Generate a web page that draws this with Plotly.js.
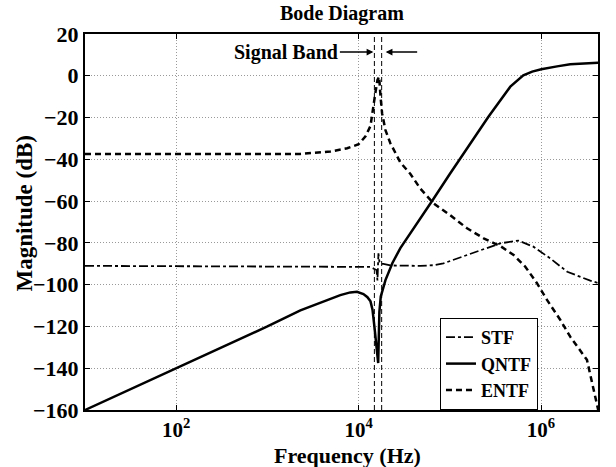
<!DOCTYPE html>
<html>
<head>
<meta charset="utf-8">
<script src="https://cdn.plot.ly/plotly-3.0.1.min.js"></script>
<style>html,body{margin:0;padding:0;background:#fff;}#chart{width:616px;height:467px;}</style>
</head>
<body>
<div id="chart"></div>
<script>
// Frequency (Hz) and magnitude (dB)
const qntfFreq = [10, 100, 1000, 2300, 4900, 6300, 8100, 9600, 11300, 12500, 13500, 14200, 14900, 15700, 16400, 16900, 17500, 19700, 23500, 28700, 37000, 47500, 66100, 100000, 154500, 181000, 264000, 461000, 640000, 800000, 1007000, 1500000, 2090000, 4240000];
const qntfDb   = [-160, -140, -120, -112.3, -107, -105, -103.7, -103.4, -104.5, -106, -108, -112, -120, -131, -137.5, -113, -105.7, -97.8, -89.6, -82.5, -75.5, -68.5, -59, -47, -35, -30.4, -19.7, -5.2, 0.2, 2, 3.1, 4.5, 5.5, 6.2];

const entfFreq = [10, 1000, 2300, 4900, 7500, 10000, 11900, 13500, 14500, 15300, 16100, 16800, 17400, 18100, 19700, 22300, 28700, 37000, 47500, 66100, 100000, 154500, 235000, 358000, 501000, 673000, 903000, 1164000, 1630000, 2090000, 3190000, 3940000, 4240000];
const entfDb   = [-37.5, -37.5, -37.4, -36.3, -34.7, -32.8, -29, -24, -16, -8, -2, -0.4, -10, -18, -26, -32.3, -41.5, -47, -54, -61, -66.6, -73, -77.8, -81.5, -85.8, -91.4, -99.3, -107.3, -116.9, -124.9, -136, -153.6, -160];

const stfFreq = [10, 10000, 13500, 14900, 15700, 16100, 16500, 16900, 17500, 18700, 22300, 47500, 66100, 85100, 154500, 358000, 564000, 824000, 1260000, 1940000, 3470000, 4240000];
const stfDb   = [-91, -91.3, -91.5, -92.5, -93, -98, -85, -89, -90, -90, -90.8, -91, -90.7, -89.8, -85.8, -80.2, -78.9, -81.8, -87.4, -93.8, -98.1, -99.2];

const bandEdges = [14900, 17900];
const xRangeLog = [1, 6.625];
const yRange = [-160, 20];
const xTickVals = [1e2, 1e4, 1e6];
const xTickText = ['10<sup>2</sup>', '10<sup>4</sup>', '10<sup>6</sup>'];
const yTickVals = [20, 0, -20, -40, -60, -80, -100, -120, -140, -160];

const FONT = 'Liberation Serif, Times New Roman, serif';
const bold = (size) => ({family: FONT, size: size, color: '#000', weight: 'bold'});

const traces = [
  {x: stfFreq, y: stfDb, name: 'STF', mode: 'lines', line: {color: '#000', width: 1.8, dash: 'dashdot'}},
  {x: qntfFreq, y: qntfDb, name: 'QNTF', mode: 'lines', line: {color: '#000', width: 2.5}},
  {x: entfFreq, y: entfDb, name: 'ENTF', mode: 'lines', line: {color: '#000', width: 2.5, dash: '6px,4px'}}
];
bandEdges.forEach(f => traces.push({
  x: [f, f], y: [yRange[0], yRange[1]], mode: 'lines', showlegend: false, hoverinfo: 'skip',
  line: {color: '#000', width: 1, dash: '5px,3px'}
}));

const layout = {
  width: 616, height: 467,
  margin: {l: 85, r: 18, t: 34, b: 57},
  paper_bgcolor: '#fff', plot_bgcolor: '#fff',
  font: bold(20),
  title: {text: 'Bode Diagram', x: 0.555, xanchor: 'center', y: 0.972, yanchor: 'middle', font: bold(20)},
  showlegend: true,
  legend: {x: 0.883, xanchor: 'right', y: 0, yanchor: 'bottom', bgcolor: '#fff', bordercolor: '#000', borderwidth: 1,
           font: bold(18), tracegroupgap: 0, itemwidth: 30},
  xaxis: {
    type: 'log', range: xRangeLog,
    tickvals: xTickVals, ticktext: xTickText,
    tickfont: bold(21),
    showline: true, linecolor: '#000', linewidth: 2, mirror: 'ticks',
    ticks: 'inside', ticklen: 5, tickcolor: '#000',
    showgrid: true, gridcolor: '#999', griddash: '1px,2px', gridwidth: 1,
    zeroline: false
  },
  yaxis: {
    range: yRange, tickvals: yTickVals,
    tickfont: bold(22),
    showline: true, linecolor: '#000', linewidth: 2, mirror: 'ticks',
    ticks: 'inside', ticklen: 5, tickcolor: '#000',
    showgrid: true, gridcolor: '#999', griddash: '1px,2px', gridwidth: 1,
    zeroline: false
  },
  annotations: [
    {xref: 'paper', yref: 'paper', x: 0.511, y: -0.121, xanchor: 'center', yanchor: 'middle',
     text: 'Frequency (Hz)', showarrow: false, font: bold(22)},
    {xref: 'paper', yref: 'paper', x: -0.117, y: 0.525, xanchor: 'center', yanchor: 'middle', textangle: -90,
     text: 'Magnitude (dB)', showarrow: false, font: bold(23)},
    {xref: 'x', yref: 'paper', x: Math.log10(bandEdges[0]), y: 0.952, text: 'Signal Band',
     showarrow: true, ax: -88, ay: 0, arrowhead: 2, arrowsize: 0.9, arrowwidth: 1.5, arrowcolor: '#000', standoff: 1,
     font: bold(20)},
    {xref: 'x', yref: 'paper', x: Math.log10(bandEdges[1]), y: 0.952, text: '',
     showarrow: true, ax: 37, ay: 0, arrowhead: 2, arrowsize: 0.9, arrowwidth: 1.5, arrowcolor: '#000', standoff: 4}
  ]
};

Plotly.newPlot('chart', traces, layout, {displayModeBar: false, staticPlot: true});
</script>
</body>
</html>
